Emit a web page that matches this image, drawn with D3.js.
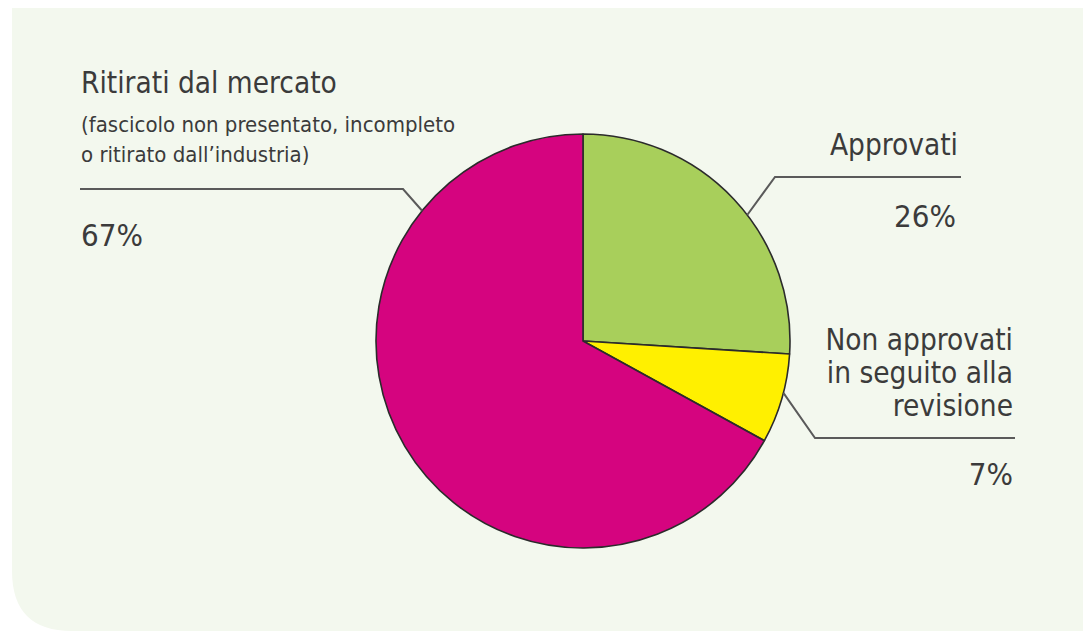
<!DOCTYPE html>
<html>
<head>
<meta charset="utf-8">
<script src="https://cdn.jsdelivr.net/npm/d3@7"></script>
<style>
  html, body { margin: 0; padding: 0; background: #ffffff; }
  svg { display: block; }
</style>
</head>
<body>
<div id="chart"></div>
<script>
// data
const categories = ["Approvati", "Non approvati", "Ritirati dal mercato"];
const values = [26, 7, 67];
const pctLabels = ["26%", "7%", "67%"];
const titleLines = [
  ["Approvati"],
  ["Non approvati", "in seguito alla", "revisione"],
  ["Ritirati dal mercato"]
];
const noteLines = ["(fascicolo non presentato, incompleto", "o ritirato dall\u2019industria)"];
const colors = ["#a8cf5b", "#fff000", "#d5047f"];

const width = 1083;
const height = 631;
const cx = 583, cy = 341, r = 207;
const textColor = "#3b3b3b";
const lineColor = "#5a5a5a";
const font = "'DejaVu Sans Condensed', 'Liberation Sans', sans-serif";

const svg = d3.select("#chart").append("svg")
  .attr("width", width)
  .attr("height", height);

// panel with rounded bottom-left corner
const px = 12, py = 8, rad = 60;
svg.append("path")
  .attr("d", `M${px},${py} H${width} V${height} H${px + rad} Q${px},${height} ${px},${height - rad} Z`)
  .attr("fill", "#f3f8ee");

const pie = d3.pie().sort(null).value(d => d)(values);
const arc = d3.arc().innerRadius(0).outerRadius(r);

const g = svg.append("g").attr("transform", `translate(${cx},${cy})`);

g.selectAll("path")
  .data(pie)
  .join("path")
  .attr("d", arc)
  .attr("fill", (d, i) => colors[i])
  .attr("stroke", "#2b2b2b")
  .attr("stroke-width", 1.6)
  .attr("stroke-linejoin", "round");

// leader lines: start at the pie edge (angle in degrees), elbow, end
const leaders = [
  { i: 0, angle: 52.5, elbow: [775, 177], end: [961, 177] },
  { i: 1, angle: 104.5, elbow: [815, 438], end: [1015, 438] },
  { i: 2, angle: 309, elbow: [403, 189], end: [80, 189] }
];

leaders.forEach(l => {
  const a = l.angle * Math.PI / 180;
  const sx = cx + r * Math.sin(a);
  const sy = cy - r * Math.cos(a);
  svg.append("polyline")
    .attr("points", [[sx, sy], l.elbow, l.end].map(p => p.join(",")).join(" "))
    .attr("fill", "none")
    .attr("stroke", lineColor)
    .attr("stroke-width", 2);
});

// labels
function addText(x, y, txt, size, anchor) {
  svg.append("text")
    .attr("x", x)
    .attr("y", y)
    .attr("text-anchor", anchor)
    .attr("font-family", font)
    .attr("font-size", size)
    .attr("fill", textColor)
    .text(txt);
}

const big = 29.5, small = 22, pct = 31;

// Approvati
addText(958, 155, titleLines[0][0], big, "end");
addText(956, 227, pctLabels[0], pct, "end");

// Non approvati
titleLines[1].forEach((t, k) => addText(1013, 350 + k * 33, t, big, "end"));
addText(1013, 485, pctLabels[1], pct, "end");

// Ritirati
addText(81, 93, titleLines[2][0], big, "start");
noteLines.forEach((t, k) => addText(81, 132 + k * 30, t, small, "start"));
addText(81, 246, pctLabels[2], pct, "start");
</script>
</body>
</html>
